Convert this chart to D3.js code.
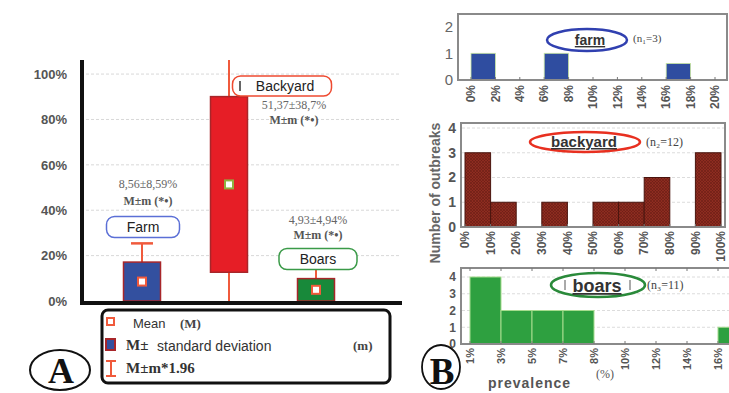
<!DOCTYPE html>
<html>
<head>
<meta charset="utf-8">
<script src="https://cdn.jsdelivr.net/npm/d3@7"></script>
<style>
  html, body { margin: 0; padding: 0; background: #fff; }
  svg { display: block; }
</style>
</head>
<body>
<svg id="chart" width="729" height="393"></svg>
<script>
// ---- Panel A: mean ± sd boxes per outbreak type ----
const groups = ["Farm", "Backyard", "Boars"];
const means = [8.56, 51.37, 4.93];
const sds = [8.59, 38.7, 4.94];
const groupFill = ["#33509f", "#e61e26", "#18893a"];
const groupOutline = ["#5b6fd6", "#ee4a30", "#3a9a48"];
const meanText = ["8,56±8,59%", "51,37±38,7%", "4,93±4,94%"];
const pctTicks = [0, 20, 40, 60, 80, 100];

// ---- Panel B: outbreak count histograms ----
const farmEdges = [0, 2, 4, 6, 8, 10, 12, 14, 16, 18, 20];
const farmCounts = [1, 0, 0, 1, 0, 0, 0, 0, 0.62, 0];
const yardEdges = [0, 10, 20, 30, 40, 50, 60, 70, 80, 90, 100];
const yardCounts = [3, 1, 0, 1, 0, 1, 1, 2, 0, 3];
const boarEdges = ["1%", "3%", "5%", "7%", "8%", "10%", "12%", "14%", "16%", "18%"];
const boarCounts = [4, 2, 2, 2, 0, 0, 0, 0, 1];

const svg = d3.select("#chart");
const SANS = "'Liberation Sans', Arial, sans-serif";
const SERIF = "'Liberation Serif', 'Times New Roman', serif";
const ORANGE = "#f05a3c";

const defs = svg.append("defs");
const hatch = defs.append("pattern").attr("id", "hatch")
  .attr("width", 3).attr("height", 3).attr("patternUnits", "userSpaceOnUse");
hatch.append("rect").attr("width", 3).attr("height", 3).attr("fill", "#8d2c20");
hatch.append("path").attr("d", "M0,0L3,3M3,0L0,3").attr("stroke", "#6a1c14").attr("stroke-width", 0.6);

// ===================== Panel A =====================
const yA = d3.scaleLinear().domain([0, 106.2]).range([301, 60]);
const xA = d3.scalePoint().domain(groups).range([142, 316]);
const boxW = 37;

const gA = svg.append("g");

// gridlines
gA.append("g").selectAll("line").data(pctTicks.slice(1)).join("line")
  .attr("x1", 86).attr("x2", 400)
  .attr("y1", d => yA(d)).attr("y2", d => yA(d))
  .attr("stroke", "#d8d8d8").attr("stroke-dasharray", "3,2");

// y axis labels
const axA = d3.axisLeft(yA).tickValues(pctTicks).tickFormat(d => d + "%").tickSize(0).tickPadding(0);
const axAg = gA.append("g").attr("transform", "translate(67,0)").call(axA);
axAg.select(".domain").remove();
axAg.selectAll("text").attr("font-family", SANS).attr("font-size", 13)
  .attr("font-weight", "bold").attr("fill", "#555");

// boxes
groups.forEach((g, i) => {
  const cx = xA(g);
  const m = means[i], s = sds[i];
  const lo = Math.max(0, m - s), hi = m + s;
  const wLo = Math.max(0, m - 1.96 * s), wHiRaw = m + 1.96 * s;
  const top = yA.domain()[1];
  const wHi = Math.min(top, wHiRaw);
  // whisker
  gA.append("line").attr("x1", cx).attr("x2", cx)
    .attr("y1", yA(wLo)).attr("y2", yA(wHi))
    .attr("stroke", ORANGE).attr("stroke-width", 2);
  if (wHiRaw <= top) {
    gA.append("line").attr("x1", cx - 11).attr("x2", cx + 11)
      .attr("y1", yA(wHi)).attr("y2", yA(wHi))
      .attr("stroke", ORANGE).attr("stroke-width", 2.5);
  }
  // box
  gA.append("rect").attr("x", cx - boxW / 2).attr("width", boxW)
    .attr("y", yA(hi)).attr("height", yA(lo) - yA(hi))
    .attr("fill", groupFill[i]).attr("stroke", "#a8262a").attr("stroke-width", 1.5);
  // mean marker
  gA.append("rect").attr("x", cx - 4).attr("y", yA(m) - 4).attr("width", 8).attr("height", 8)
    .attr("fill", "#fff").attr("stroke", i === 1 ? "#8fb040" : ORANGE).attr("stroke-width", 2);
});

// axis lines
gA.append("line").attr("x1", 82).attr("x2", 82).attr("y1", 60).attr("y2", 304)
  .attr("stroke", "#111").attr("stroke-width", 4);
gA.append("line").attr("x1", 80).attr("x2", 402).attr("y1", 303).attr("y2", 303)
  .attr("stroke", "#111").attr("stroke-width", 4);

// group labels and mean±sd annotations
const tagPos = [
  { x: 143, y: 227, w: 73, h: 21, tx: 148, t1: 188, t2: 205 },
  { x: 282, y: 86, w: 99, h: 20, tx: 294, t1: 109, t2: 124 },
  { x: 318, y: 259, w: 78, h: 21, tx: 318, t1: 224, t2: 239 }
];
groups.forEach((g, i) => {
  const p = tagPos[i];
  gA.append("rect").attr("x", p.x - p.w / 2).attr("y", p.y - p.h / 2)
    .attr("width", p.w).attr("height", p.h).attr("rx", 8)
    .attr("fill", "#fff").attr("stroke", groupOutline[i]).attr("stroke-width", 1.5);
  gA.append("text").attr("x", p.x + (i === 1 ? 3 : 0)).attr("y", p.y + 5)
    .attr("text-anchor", "middle").attr("font-family", SANS).attr("font-size", 14)
    .attr("fill", "#222").text(g);
  if (i === 1) {
    gA.append("line").attr("x1", p.x - 42).attr("x2", p.x - 42).attr("y1", p.y - 5).attr("y2", p.y + 5)
      .attr("stroke", "#333").attr("stroke-width", 1.5);
  }
  gA.append("text").attr("x", p.tx).attr("y", p.t1).attr("text-anchor", "middle")
    .attr("font-family", SERIF).attr("font-size", 12).attr("fill", "#666").text(meanText[i]);
  gA.append("text").attr("x", p.tx).attr("y", p.t2).attr("text-anchor", "middle")
    .attr("font-family", SERIF).attr("font-size", 12).attr("font-weight", "bold")
    .attr("fill", "#555").text("M±m (*•)");
});

// legend
const lg = gA.append("g");
lg.append("rect").attr("x", 102).attr("y", 310).attr("width", 288).attr("height", 73).attr("rx", 6)
  .attr("fill", "#fff").attr("stroke", "#111").attr("stroke-width", 3);
lg.append("rect").attr("x", 107).attr("y", 318).attr("width", 7).attr("height", 7)
  .attr("fill", "#fff").attr("stroke", ORANGE).attr("stroke-width", 2);
lg.append("text").attr("x", 133).attr("y", 328).attr("font-family", SANS).attr("font-size", 13)
  .attr("fill", "#333").text("Mean");
lg.append("text").attr("x", 180).attr("y", 328).attr("font-family", SERIF).attr("font-size", 13)
  .attr("font-weight", "bold").attr("fill", "#444").text("(M)");
lg.append("rect").attr("x", 106).attr("y", 339).attr("width", 9).attr("height", 11)
  .attr("fill", "#33509f").attr("stroke", "#a8262a").attr("stroke-width", 2);
lg.append("text").attr("x", 126).attr("y", 350).attr("font-family", SERIF).attr("font-size", 15)
  .attr("font-weight", "bold").attr("fill", "#333").text("M±");
lg.append("text").attr("x", 157).attr("y", 351).attr("font-family", SANS).attr("font-size", 14)
  .attr("fill", "#333").text("standard deviation");
lg.append("text").attr("x", 353).attr("y", 350).attr("font-family", SERIF).attr("font-size", 13)
  .attr("font-weight", "bold").attr("fill", "#444").text("(m)");
lg.append("path").attr("d", "M106,361H116M111,361V376M106,376H116")
  .attr("stroke", ORANGE).attr("stroke-width", 2).attr("fill", "none");
lg.append("text").attr("x", 126).attr("y", 373).attr("font-family", SERIF).attr("font-size", 15)
  .attr("font-weight", "bold").attr("fill", "#333").text("M±m*1.96");

// panel letter A
gA.append("ellipse").attr("cx", 60).attr("cy", 370).attr("rx", 30).attr("ry", 20)
  .attr("fill", "none").attr("stroke", "#111").attr("stroke-width", 2);
gA.append("text").attr("x", 61).attr("y", 383).attr("text-anchor", "middle")
  .attr("font-family", SERIF).attr("font-size", 36).attr("font-weight", "bold")
  .attr("fill", "#111").text("A");

// ===================== Panel B =====================
const gB = svg.append("g");
const FRAME = "#8a8a8a";

function frame(x0, x1, y0, y1, clipRight) {
  const p = clipRight ? `M${x1},${y0}H${x0}V${y1}H${x1}` : `M${x0},${y0}H${x1}V${y1}H${x0}Z`;
  gB.append("path").attr("d", p).attr("fill", "none").attr("stroke", FRAME).attr("stroke-width", 2);
}
function yTicks(y, vals, x) {
  const ax = d3.axisLeft(y).tickValues(vals).tickFormat(d3.format("d")).tickSize(0).tickPadding(0);
  const g = gB.append("g").attr("transform", `translate(${x},0)`).call(ax);
  g.select(".domain").remove();
  return g;
}
function rotLabels(positions, labels, y, size) {
  gB.append("g").selectAll("text").data(labels).join("text")
    .attr("transform", (d, i) => `translate(${positions[i]},${y}) rotate(-90)`)
    .attr("text-anchor", "end").attr("dy", "0.35em")
    .attr("font-family", SANS).attr("font-size", size).attr("font-weight", "bold")
    .attr("fill", "#555").text(d => d);
}
function bottomTicks(positions, y) {
  gB.append("g").selectAll("line").data(positions).join("line")
    .attr("x1", d => d).attr("x2", d => d).attr("y1", y - 3).attr("y2", y)
    .attr("stroke", "#777").attr("stroke-width", 1);
}

// --- farm ---
const xF = d3.scaleLinear().domain([0, 20]).range([471, 715]);
const yF = d3.scaleLinear().domain([0, 1]).range([80, 53.3]);
yTicks(yF, [0, 1, 2], 453).selectAll("text")
  .attr("font-family", SANS).attr("font-size", 15).attr("fill", "#666");
gB.append("g").selectAll("rect").data(farmCounts).join("rect")
  .attr("x", (d, i) => xF(farmEdges[i])).attr("width", (d, i) => xF(farmEdges[i + 1]) - xF(farmEdges[i]))
  .attr("y", d => yF(d)).attr("height", d => yF(0) - yF(d))
  .attr("fill", "#2f4da0").attr("stroke", "#c8e6a0").attr("stroke-width", 0.8);
frame(458, 727, 14, 80);
bottomTicks(farmEdges.map(xF), 80);
rotLabels(farmEdges.map(xF), farmEdges.map(d => d + "%"), 85, 12);
gB.append("ellipse").attr("cx", 587).attr("cy", 40).attr("rx", 40).attr("ry", 11)
  .attr("fill", "#fff").attr("stroke", "#3040b0").attr("stroke-width", 2.5);
gB.append("text").attr("x", 590).attr("y", 45).attr("text-anchor", "middle")
  .attr("font-family", SANS).attr("font-size", 14).attr("font-weight", "bold")
  .attr("text-decoration", "underline").attr("fill", "#333").text("farm");
gB.append("text").attr("x", 633).attr("y", 42).attr("font-family", SERIF).attr("font-size", 11)
  .attr("fill", "#444").text("(n₁=3)");

// --- backyard ---
const xY = d3.scaleLinear().domain([0, 100]).range([465, 721]);
const yY = d3.scaleLinear().domain([0, 4]).range([227, 128]);
gB.append("g").selectAll("line").data([1, 2, 3, 4]).join("line")
  .attr("x1", 462).attr("x2", 724).attr("y1", d => yY(d)).attr("y2", d => yY(d))
  .attr("stroke", "#dcdcdc").attr("stroke-dasharray", "3,2");
yTicks(yY, [0, 1, 2, 3, 4], 456).selectAll("text")
  .attr("font-family", SANS).attr("font-size", 14).attr("font-weight", "bold").attr("fill", "#555");
gB.append("g").selectAll("rect").data(yardCounts).join("rect")
  .attr("x", (d, i) => xY(yardEdges[i])).attr("width", (d, i) => xY(yardEdges[i + 1]) - xY(yardEdges[i]))
  .attr("y", d => yY(d)).attr("height", d => yY(0) - yY(d))
  .attr("fill", "url(#hatch)").attr("stroke", "#4a140e").attr("stroke-width", 1);
frame(461, 725, 123, 227);
bottomTicks(yardEdges.map(xY), 227);
rotLabels(yardEdges.map(xY), yardEdges.map(d => d + "%"), 231, 12);
gB.append("ellipse").attr("cx", 585).attr("cy", 142).attr("rx", 55).attr("ry", 10)
  .attr("fill", "#fff").attr("stroke", "#e83020").attr("stroke-width", 2.5);
gB.append("text").attr("x", 584).attr("y", 147).attr("text-anchor", "middle")
  .attr("font-family", SANS).attr("font-size", 15).attr("font-weight", "bold")
  .attr("text-decoration", "underline").attr("fill", "#333").text("backyard");
gB.append("text").attr("x", 646).attr("y", 146).attr("font-family", SERIF).attr("font-size", 12)
  .attr("fill", "#444").text("(n₂=12)");
gB.append("text").attr("transform", "translate(440,193) rotate(-90)").attr("text-anchor", "middle")
  .attr("font-family", SANS).attr("font-size", 14).attr("font-weight", "bold")
  .attr("fill", "#666").text("Number of outbreaks");

// --- boars ---
const xB = d3.scalePoint().domain(boarEdges).range([470, 749]);
const yB = d3.scaleLinear().domain([0, 4]).range([344, 277]);
gB.append("g").selectAll("line").data([1, 2, 3, 4]).join("line")
  .attr("x1", 462).attr("x2", 729).attr("y1", d => yB(d)).attr("y2", d => yB(d))
  .attr("stroke", "#dcdcdc").attr("stroke-dasharray", "3,2");
yTicks(yB, [0, 1, 2, 3, 4], 456).selectAll("text")
  .attr("font-family", SANS).attr("font-size", 12).attr("font-weight", "bold").attr("fill", "#555");
gB.append("g").selectAll("rect").data(boarCounts).join("rect")
  .attr("x", (d, i) => xB(boarEdges[i])).attr("width", (d, i) => xB(boarEdges[i + 1]) - xB(boarEdges[i]))
  .attr("y", d => yB(d)).attr("height", d => yB(0) - yB(d))
  .attr("fill", "#2ea040").attr("stroke", "#a6dc8e").attr("stroke-width", 1);
frame(461, 731, 268, 344, true);
bottomTicks(boarEdges.map(xB), 344);
gB.append("g").selectAll("line").data(boarEdges.map(xB)).join("line")
  .attr("x1", d => d).attr("x2", d => d).attr("y1", 268).attr("y2", 271)
  .attr("stroke", "#777");
rotLabels(boarEdges.slice(0, -1).map(xB), boarEdges.slice(0, -1), 348, 11);
gB.append("ellipse").attr("cx", 598).attr("cy", 285).attr("rx", 47).attr("ry", 12)
  .attr("fill", "#fff").attr("stroke", "#2a8a3a").attr("stroke-width", 2.5);
gB.append("text").attr("x", 597).attr("y", 292).attr("text-anchor", "middle")
  .attr("font-family", SANS).attr("font-size", 18).attr("font-weight", "bold")
  .attr("text-decoration", "underline").attr("fill", "#333").text("boars");
gB.append("path").attr("d", "M565,280V290M630,280V290").attr("stroke", "#555").attr("stroke-width", 1);
gB.append("text").attr("x", 647).attr("y", 289).attr("font-family", SERIF).attr("font-size", 12)
  .attr("fill", "#444").text("(n₃=11)");
gB.append("text").attr("x", 488).attr("y", 388).attr("font-family", SANS).attr("font-size", 14)
  .attr("font-weight", "bold").attr("letter-spacing", 1).attr("fill", "#555").text("prevalence");
gB.append("text").attr("x", 596).attr("y", 378).attr("font-family", SERIF).attr("font-size", 12)
  .attr("fill", "#555").text("(%)");

// panel letter B
gB.append("ellipse").attr("cx", 441).attr("cy", 367).attr("rx", 19).attr("ry", 22)
  .attr("fill", "none").attr("stroke", "#111").attr("stroke-width", 1.8);
gB.append("text").attr("x", 442).attr("y", 384).attr("text-anchor", "middle")
  .attr("font-family", SERIF).attr("font-size", 37).attr("font-weight", "bold")
  .attr("fill", "#111").text("B");
</script>
</body>
</html>
